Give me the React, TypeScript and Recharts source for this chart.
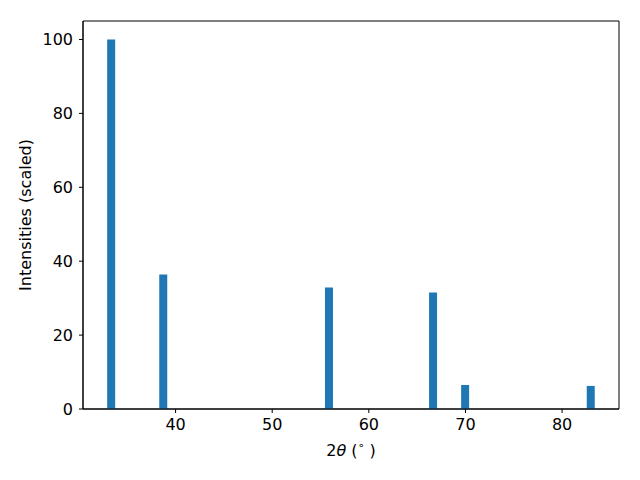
import React from "react";
import { BarChart, Bar, XAxis, YAxis, Label, ReferenceArea } from "recharts";

const positions = [33.34, 38.73, 55.88, 66.65, 69.97, 82.97];
const intensities = [100, 36.4, 32.9, 31.5, 6.5, 6.25];
const xTicks = [40, 50, 60, 70, 80];
const yTicks = [0, 20, 40, 60, 80, 100];
const xDomain = [30.42, 85.89];
const yDomain = [0, 105];

const data = positions.map((p, i) => ({ pos: p, intensity: intensities[i] }));

const FONT = "DejaVu Sans";
const tickStyle = { fontFamily: FONT, fontSize: 16, fill: "#000" };

const XLabelContent = (props: any) => {
  const vb = props.viewBox || {};
  const cx = vb.x + vb.width / 2;
  const y = vb.y + 47;
  return (
    <text x={cx} y={y} textAnchor="middle" fontFamily={FONT} fontSize={16} fill="#000">
      2<tspan fontStyle="italic">θ</tspan> (
      <tspan fontSize={11} dy={-7}>∘</tspan>
      <tspan dy={7}> )</tspan>
    </text>
  );
};

const YLabelContent = (props: any) => {
  const vb = props.viewBox || {};
  const cx = 25;
  const cy = vb.y + vb.height / 2;
  return (
    <text
      x={cx}
      y={cy}
      textAnchor="middle"
      dominantBaseline="central"
      transform={`rotate(-90, ${cx}, ${cy})`}
      fontFamily={FONT}
      fontSize={16}
      fill="#000"
    >
      Intensities (scaled)
    </text>
  );
};

export default function App() {
  return (
    <div style={{ position: "absolute", left: 0, top: 0, width: 640, height: 480, background: "#fff" }}>
      <BarChart
        width={640}
        height={480}
        data={data}
        margin={{ top: 21, right: 21, left: 0, bottom: 0 }}
      >
        <XAxis
          dataKey="pos"
          type="number"
          domain={xDomain}
          ticks={xTicks}
          allowDataOverflow
          height={71}
          tickSize={4}
          tickMargin={6}
          tick={tickStyle}
          stroke="#000"
          tickLine={{ stroke: "#000", strokeWidth: 1 }}
          axisLine={{ stroke: "#000", strokeWidth: 1 }}
        >
          <Label content={XLabelContent} />
        </XAxis>
        <YAxis
          type="number"
          domain={yDomain}
          ticks={yTicks}
          allowDataOverflow
          width={83}
          tickSize={4}
          tickMargin={6}
          tick={tickStyle}
          stroke="#000"
          tickLine={{ stroke: "#000", strokeWidth: 1 }}
          axisLine={{ stroke: "#000", strokeWidth: 1 }}
        >
          <Label content={YLabelContent} />
        </YAxis>
        <Bar dataKey="intensity" fill="#1f77b4" barSize={8} isAnimationActive={false} />
        <ReferenceArea
          x1={xDomain[0]}
          x2={xDomain[1]}
          y1={yDomain[0]}
          y2={yDomain[1]}
          fill="none"
          fillOpacity={0}
          stroke="#000"
          strokeWidth={1}
          strokeOpacity={1}
        />
      </BarChart>
    </div>
  );
}
